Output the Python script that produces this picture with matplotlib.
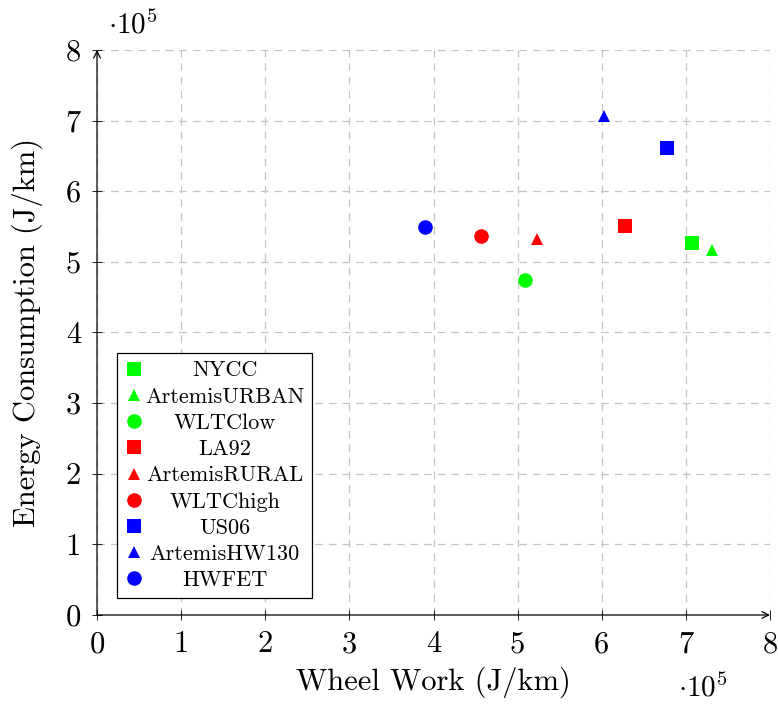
import matplotlib
matplotlib.use("Agg")
import matplotlib.pyplot as plt
from matplotlib.ticker import FuncFormatter, MultipleLocator

plt.rcParams['font.family'] = ['cmr10', 'DejaVu Serif']
plt.rcParams['mathtext.fontset'] = 'cm'
plt.rcParams['axes.unicode_minus'] = False
plt.rcParams['lines.scale_dashes'] = False

# Drive cycles: wheel work vs energy consumption (J/km)
cycles = ['NYCC', 'ArtemisURBAN', 'WLTClow',
          'LA92', 'ArtemisRURAL', 'WLTChigh',
          'US06', 'ArtemisHW130', 'HWFET']
wheel_work = [7.07e5, 7.31e5, 5.09e5,
              6.28e5, 5.23e5, 4.57e5,
              6.78e5, 6.03e5, 3.90e5]
energy = [5.26e5, 5.17e5, 4.74e5,
          5.51e5, 5.33e5, 5.37e5,
          6.61e5, 7.07e5, 5.49e5]
colors = ['#00ff00'] * 3 + ['#ff0000'] * 3 + ['#0000ff'] * 3
markers = ['s', '^', 'o'] * 3
msizes = {'s': 10, '^': 9, 'o': 10.5}

fig = plt.figure(figsize=(7.78, 7.09), dpi=100)
ax = fig.add_axes([0.1247, 0.1326, 0.8650, 0.7969])

for name, x, y, c, m in zip(cycles, wheel_work, energy, colors, markers):
    ax.plot([x], [y], linestyle='none', marker=m, color=c,
            markersize=msizes[m], markeredgewidth=0, label=name, zorder=3)

ax.set_xlim(0, 8e5)
ax.set_ylim(0, 8e5)
ax.xaxis.set_major_locator(MultipleLocator(1e5))
ax.yaxis.set_major_locator(MultipleLocator(1e5))
fmt = FuncFormatter(lambda v, pos: f"{v / 1e5:.0f}")
ax.xaxis.set_major_formatter(fmt)
ax.yaxis.set_major_formatter(fmt)
ax.tick_params(labelsize=22, direction='inout', length=7, width=0.6, pad=8)

ax.grid(True, color='#c4c4c4', linestyle=(0, (5.5, 4.3)), linewidth=0.9)
ax.set_axisbelow(True)
for side in ['top', 'right', 'left', 'bottom']:
    ax.spines[side].set_visible(False)

# axis lines with arrow heads
arrow = dict(arrowstyle='->', color='black', lw=0.9, shrinkA=0, shrinkB=0,
             mutation_scale=12)
ax.annotate('', xy=(1, 0), xytext=(0, 0), xycoords='axes fraction',
            arrowprops=arrow, annotation_clip=False)
ax.annotate('', xy=(0, 1), xytext=(0, 0), xycoords='axes fraction',
            arrowprops=arrow, annotation_clip=False)

ax.set_xlabel('Wheel Work (J/km)', fontsize=22, labelpad=6)
ax.set_ylabel('Energy Consumption (J/km)', fontsize=22, labelpad=16)
ax.text(0.016, 1.030, r'$\cdot 10^5$', transform=ax.transAxes, fontsize=21,
        ha='left', va='baseline')
ax.text(0.863, -0.145, r'$\cdot 10^5$', transform=ax.transAxes, fontsize=21,
        ha='left', va='baseline')

leg = ax.legend(loc='lower left', bbox_to_anchor=(0.03, 0.03), borderaxespad=0,
                fontsize=16, fancybox=False, edgecolor='black', framealpha=1,
                handlelength=0.8, handletextpad=0.1, labelspacing=0.3,
                borderpad=0.35, numpoints=1)
leg.get_frame().set_linewidth(0.9)
for h in leg.legend_handles:
    if h.get_marker() == '^':
        h.set_markersize(8)

# center the entries inside the legend column
fig.canvas.draw()
renderer = fig.canvas.get_renderer()
texts = leg.get_texts()
widths = [t.get_window_extent(renderer).width for t in texts]
wmax = max(widths)
for t, w in zip(texts, widths):
    t.set_x((wmax - w) / 2)

fig.savefig('out.png', dpi=100)
